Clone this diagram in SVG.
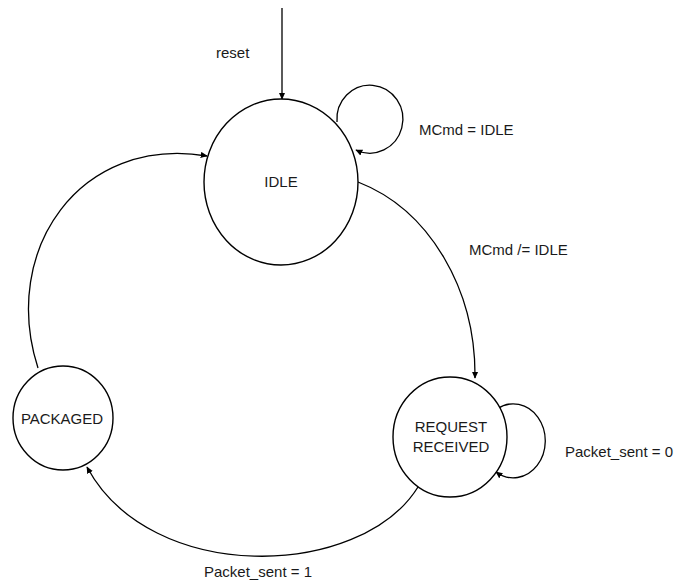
<svg xmlns="http://www.w3.org/2000/svg" width="675" height="581" viewBox="0 0 675 581">
  <style>
    .state { fill: #ffffff; stroke: #000000; stroke-width: 1.4; }
    .edge { fill: none; stroke: #000000; stroke-width: 1.3; marker-end: url(#arrow); }
    text { font-family: "Liberation Sans", Arial, Helvetica, sans-serif; font-size: 15px; fill: #1a1a1a; }
    .mid { text-anchor: middle; }
  </style>
  <defs>
    <marker id="arrow" viewBox="0 0 10 10" refX="9" refY="5" markerWidth="7" markerHeight="7" markerUnits="userSpaceOnUse" orient="auto">
      <path d="M0,0.5 L10,5 L0,9.5 Z" fill="#000000"/>
    </marker>
  </defs>
  <rect width="675" height="581" fill="#ffffff"/>

  <g id="connectors">
    <!-- reset entry -->
    <path class="edge" d="M282,8 L282,99"/>
    <!-- IDLE self loop -->
    <path class="edge" d="M337,122 A33,34 0 1 1 356,150"/>
    <!-- IDLE to REQUEST RECEIVED -->
    <path class="edge" d="M358,182 C430,210 476,290 475,378"/>
    <!-- REQUEST RECEIVED self loop -->
    <path class="edge" d="M497,409 A32,37 0 1 1 496,472"/>
    <!-- REQUEST RECEIVED to PACKAGED -->
    <path class="edge" d="M418,487 C360,580 150,585 87,467"/>
    <!-- PACKAGED to IDLE -->
    <path class="edge" d="M38,368 C0,250 80,135 207,156"/>
  </g>

  <g id="labels">
    <text x="216" y="58">reset</text>
    <text x="419" y="135">MCmd = IDLE</text>
    <text x="469" y="255">MCmd /= IDLE</text>
    <text x="565" y="457">Packet_sent = 0</text>
    <text x="204" y="577">Packet_sent = 1</text>
  </g>

  <g id="idle">
    <ellipse class="state" cx="281" cy="182" rx="77" ry="83"/>
    <text class="mid" x="281" y="187">IDLE</text>
  </g>

  <g id="request-received">
    <ellipse class="state" cx="450" cy="437" rx="57" ry="60"/>
    <text class="mid" x="451" y="432">REQUEST</text>
    <text class="mid" x="451" y="452">RECEIVED</text>
  </g>

  <g id="packaged">
    <ellipse class="state" cx="63" cy="418" rx="50" ry="52"/>
    <text class="mid" x="62" y="424">PACKAGED</text>
  </g>
</svg>
